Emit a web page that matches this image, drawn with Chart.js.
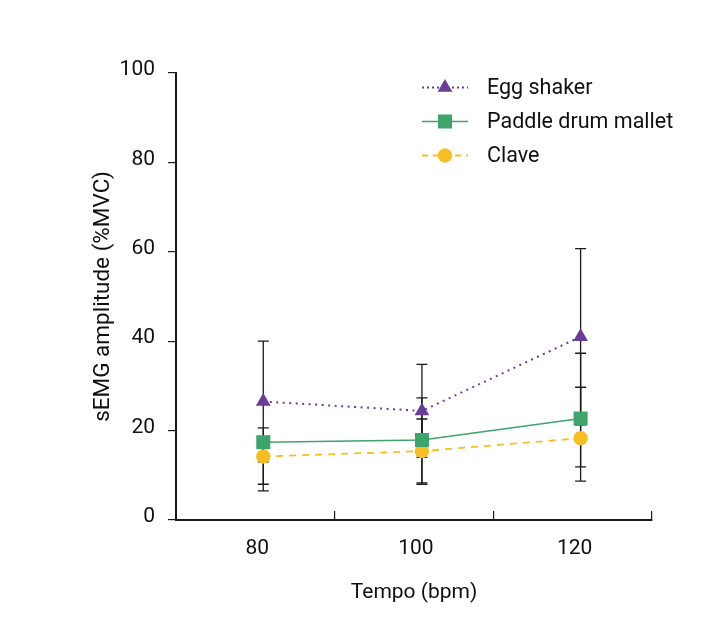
<!DOCTYPE html>
<html>
<head>
<meta charset="utf-8">
<script src="https://cdn.jsdelivr.net/npm/chart.js@4/dist/chart.umd.min.js"></script>
<style>
  html, body { margin: 0; padding: 0; background: #ffffff; }
  #wrap { width: 710px; height: 628px; }
</style>
</head>
<body>
<div id="wrap"><canvas id="c" width="710" height="628"></canvas></div>
<script>
// ---- data ----
const tempos = [80, 100, 120];
const seriesNames = ['Egg shaker', 'Paddle drum mallet', 'Clave'];

const eggMean    = [26.5, 24.4, 41.0];
const eggHigh    = [40.0, 34.8, 60.7];
const eggLow     = [13.0, 14.0, 21.3];

const paddleMean = [17.4, 17.9, 22.7];
const paddleHigh = [20.6, 27.3, 37.3];
const paddleLow  = [8.0, 8.3, 8.7];

const claveMean  = [14.2, 15.4, 18.3];
const claveHigh  = [17.0, 22.6, 29.7];
const claveLow   = [6.5, 8.0, 11.9];

const yTicks = [0, 20, 40, 60, 80, 100];
const xBounds = [69, 89, 109, 129];

// ---- styling ----
const FONT = "Roboto, 'Liberation Sans', sans-serif";
const TEXT = '#111011';
const PURPLE = '#6b3d9a';
const GREEN = '#3da46c';
const YELLOW = '#f7be22';

function pts(means) { return tempos.map((t, i) => ({ x: t, y: means[i] })); }

const errorBars = {
  id: 'errorBars',
  beforeDatasetsDraw(chart) {
    const ctx = chart.ctx;
    const ys = chart.scales.y;
    ctx.save();
    ctx.strokeStyle = '#1a1a1a';
    ctx.lineWidth = 1.3;
    chart.data.datasets.forEach((ds, di) => {
      const meta = chart.getDatasetMeta(di);
      meta.data.forEach((pt, i) => {
        const x = pt.x;
        const yt = ys.getPixelForValue(ds.errHigh[i]);
        const yb = ys.getPixelForValue(ds.errLow[i]);
        ctx.beginPath();
        ctx.moveTo(x, yt); ctx.lineTo(x, yb);
        ctx.moveTo(x - 5.5, yt); ctx.lineTo(x + 5.5, yt);
        ctx.moveTo(x - 5.5, yb); ctx.lineTo(x + 5.5, yb);
        ctx.stroke();
      });
    });
    ctx.restore();
  }
};

const lineLegend = {
  id: 'lineLegend',
  afterDraw(chart) {
    const ctx = chart.ctx;
    const x0 = 422, x1 = 468, xm = 445, tx = 487;
    const rows = [87.5, 121.5, 155.5];
    ctx.save();
    chart.data.datasets.forEach((ds, i) => {
      const y = rows[i];
      ctx.strokeStyle = ds.borderColor;
      ctx.lineWidth = ds.legendLineWidth;
      ctx.setLineDash(ds.legendDash);
      ctx.lineCap = 'butt';
      ctx.beginPath();
      ctx.moveTo(x0, y); ctx.lineTo(x1, y);
      ctx.stroke();
      ctx.setLineDash([]);
      ctx.fillStyle = ds.pointBackgroundColor;
      ctx.strokeStyle = ds.pointBorderColor;
      Chart.helpers.drawPoint(ctx, {
        pointStyle: ds.pointStyle, radius: ds.pointRadius, rotation: 0, borderWidth: 0
      }, xm, y);
      ctx.fillStyle = TEXT;
      ctx.font = "21.5px " + FONT;
      ctx.textAlign = 'left';
      ctx.textBaseline = 'middle';
      ctx.fillText(ds.label, tx, y + 1);
    });
    ctx.restore();
  }
};

new Chart(document.getElementById('c'), {
  type: 'line',
  data: {
    datasets: [
      {
        label: seriesNames[0], data: pts(eggMean), errHigh: eggHigh, errLow: eggLow,
        borderColor: PURPLE, borderWidth: 2, borderDash: [2, 4.5],
        legendDash: [2, 3], legendLineWidth: 2,
        pointStyle: 'triangle', pointRadius: 8.5, pointHoverRadius: 8.5,
        pointBackgroundColor: PURPLE, pointBorderColor: PURPLE, pointBorderWidth: 0,
        fill: false, tension: 0
      },
      {
        label: seriesNames[1], data: pts(paddleMean), errHigh: paddleHigh, errLow: paddleLow,
        borderColor: GREEN, borderWidth: 1.6, borderDash: [],
        legendDash: [], legendLineWidth: 1.6,
        pointStyle: 'rect', pointRadius: 9.9, pointHoverRadius: 9.9,
        pointBackgroundColor: GREEN, pointBorderColor: GREEN, pointBorderWidth: 0,
        fill: false, tension: 0
      },
      {
        label: seriesNames[2], data: pts(claveMean), errHigh: claveHigh, errLow: claveLow,
        borderColor: YELLOW, borderWidth: 1.8, borderDash: [7, 6],
        legendDash: [6, 5], legendLineWidth: 1.8,
        pointStyle: 'circle', pointRadius: 7.2, pointHoverRadius: 7.2,
        pointBackgroundColor: YELLOW, pointBorderColor: YELLOW, pointBorderWidth: 0,
        fill: false, tension: 0
      }
    ]
  },
  options: {
    responsive: false,
    animation: false,
    devicePixelRatio: 1,
    layout: { padding: { left: 60, right: 58, top: 73, bottom: 0 } },
    plugins: {
      legend: { display: false },
      tooltip: { enabled: false }
    },
    scales: {
      x: {
        type: 'linear',
        min: xBounds[0], max: xBounds[xBounds.length - 1],
        afterBuildTicks(scale) {
          const vals = xBounds.concat(tempos).sort((a, b) => a - b);
          scale.ticks = vals.map(v => ({ value: v }));
        },
        afterFit(scale) { scale.height = 628 - 520; },
        ticks: {
          autoSkip: false, maxRotation: 0,
          callback: (v) => tempos.includes(v) ? String(v) : '',
          font: { family: FONT, size: 21 }, color: TEXT,
          padding: 25, labelOffset: -6
        },
        grid: {
          drawOnChartArea: false, drawTicks: true, tickLength: -9,
          color: (c) => (c.tick && tempos.includes(c.tick.value)) ? 'rgba(0,0,0,0)' : '#1a1a1a',
          lineWidth: 1.2
        },
        border: { display: true, color: '#1a1a1a', width: 2 },
        title: {
          display: true, text: 'Tempo (bpm)',
          font: { family: FONT, size: 21 }, color: TEXT,
          padding: { top: 0, bottom: 23 }
        }
      },
      y: {
        min: yTicks[0], max: yTicks[yTicks.length - 1],
        afterBuildTicks(scale) { scale.ticks = yTicks.map(v => ({ value: v })); },
        afterFit(scale) { scale.width = 176 - 60; },
        ticks: {
          font: { family: FONT, size: 21 }, color: TEXT,
          padding: 13, labelOffset: -3
        },
        grid: {
          drawOnChartArea: false, drawTicks: true, tickLength: 8,
          color: '#1a1a1a', lineWidth: 1.2
        },
        border: { display: true, color: '#1a1a1a', width: 2 },
        title: {
          display: true, text: 'sEMG amplitude (%MVC)',
          font: { family: FONT, size: 22.5 }, color: TEXT,
          padding: { top: 30, bottom: 0 }
        }
      }
    }
  },
  plugins: [errorBars, lineLegend]
});
</script>
</body>
</html>
